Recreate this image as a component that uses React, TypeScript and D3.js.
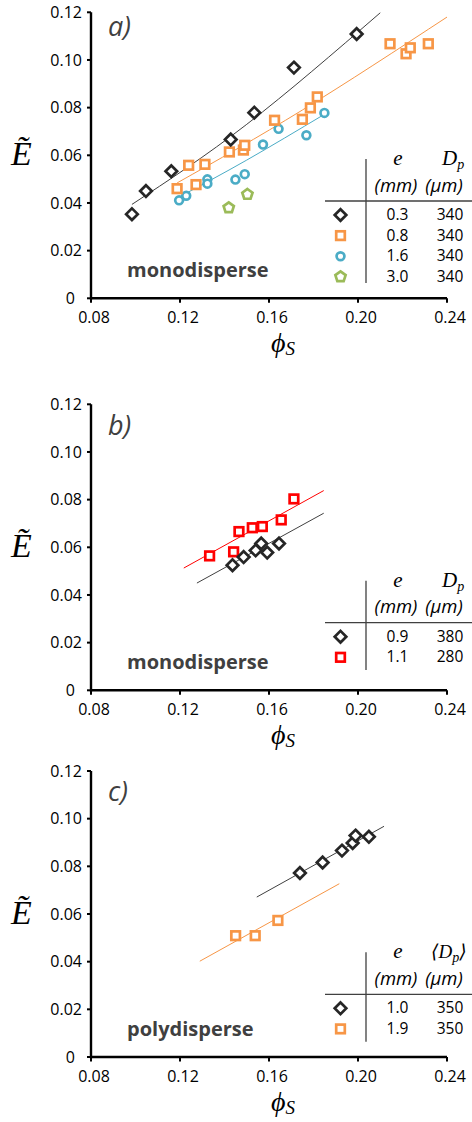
import React from "react";
import * as d3 from "d3";

// axis ticks shared by the three panels
const xTicks = [0.08, 0.12, 0.16, 0.2, 0.24];
const yTicks = [0, 0.02, 0.04, 0.06, 0.08, 0.1, 0.12];

// panel a) monodisperse, Dp = 340 um
const aE03 = [[0.0984, 0.0353], [0.1047, 0.045], [0.1161, 0.0533], [0.1428, 0.0666], [0.1534, 0.0779], [0.1712, 0.0968], [0.1994, 0.1109]];
const aE08 = [[0.1187, 0.046], [0.1239, 0.0558], [0.1272, 0.0477], [0.1312, 0.0562], [0.1422, 0.0614], [0.1485, 0.0622], [0.1491, 0.0642], [0.1625, 0.0747], [0.175, 0.0751], [0.1786, 0.0799], [0.1817, 0.0845], [0.2144, 0.1068], [0.2216, 0.1026], [0.2235, 0.1051], [0.2316, 0.1068]];
const aE16 = [[0.1196, 0.0411], [0.1228, 0.043], [0.1323, 0.0499], [0.1323, 0.0481], [0.1449, 0.0498], [0.1491, 0.0521], [0.1573, 0.0645], [0.1643, 0.0711], [0.1768, 0.0684], [0.1849, 0.0778]];
const aE30 = [[0.1419, 0.038], [0.1503, 0.0436]];
const aFit03 = [[0.0984, 0.0394], [0.15, 0.073], [0.21, 0.1198]];
const aFit08 = [[0.1187, 0.0484], [0.175, 0.079], [0.24, 0.118]];
const aFit16 = [[0.1196, 0.0425], [0.15, 0.058], [0.1849, 0.0772]];

// panel b) monodisperse
const bE09 = [[0.1436, 0.0525], [0.1486, 0.0559], [0.154, 0.0587], [0.1565, 0.0616], [0.1592, 0.0578], [0.1645, 0.0616]];
const bE11 = [[0.1333, 0.0564], [0.1441, 0.0581], [0.1465, 0.0666], [0.1525, 0.0682], [0.157, 0.0687], [0.1655, 0.0715], [0.1712, 0.0803]];
const bFit09 = [[0.1276, 0.045], [0.1846, 0.0743]];
const bFit11 = [[0.1217, 0.0513], [0.1846, 0.0838]];

// panel c) polydisperse
const cE10 = [[0.1739, 0.0772], [0.1841, 0.0816], [0.1928, 0.0866], [0.1976, 0.0898], [0.1989, 0.0929], [0.2049, 0.0924]];
const cE19 = [[0.145, 0.0509], [0.1538, 0.0509], [0.164, 0.0573]];
const cFit10 = [[0.1545, 0.0671], [0.2117, 0.0968]];
const cFit19 = [[0.1289, 0.0402], [0.1916, 0.0727]];

const BLACK = "#262626";
const ORANGE = "#F79646";
const BLUE = "#4BACC6";
const GREEN = "#9BBB59";
const RED = "#FF0000";

const panels = [
  {
    label: "a)", top: 12.3, labelY: 35.5, note: "monodisperse", legendY: 201, legendBottom: 283, dpLabel: "D",
    series: [
      { data: aE03, fit: aFit03, color: BLACK, shape: "diamond", e: "0.3", dp: "340" },
      { data: aE08, fit: aFit08, color: ORANGE, shape: "square", e: "0.8", dp: "340" },
      { data: aE16, fit: aFit16, color: BLUE, shape: "circle", e: "1.6", dp: "340" },
      { data: aE30, fit: null, color: GREEN, shape: "pentagon", e: "3.0", dp: "340" },
    ],
  },
  {
    label: "b)", top: 404.3, labelY: 435, note: "monodisperse", legendY: 622.7, legendBottom: 670, dpLabel: "D",
    series: [
      { data: bE09, fit: bFit09, color: BLACK, shape: "diamond", e: "0.9", dp: "380" },
      { data: bE11, fit: bFit11, color: RED, shape: "square", e: "1.1", dp: "280" },
    ],
  },
  {
    label: "c)", top: 771, labelY: 800.5, note: "polydisperse", legendY: 994.3, legendBottom: 1041.7, dpLabel: "⟨D",
    series: [
      { data: cE10, fit: cFit10, color: BLACK, shape: "diamond", e: "1.0", dp: "350" },
      { data: cE19, fit: cFit19, color: ORANGE, shape: "square", e: "1.9", dp: "350" },
    ],
  },
];

const SANS = "'Open Sans', sans-serif";
const SERIF = "'Liberation Serif', 'DejaVu Serif', serif";
const PLOT_H = 286;

const pentagon = (r: number) => {
  const p = d3.path();
  d3.range(5).forEach((k) => {
    const a = -Math.PI / 2 + (k * 2 * Math.PI) / 5;
    if (k === 0) p.moveTo(r * Math.cos(a), r * Math.sin(a));
    else p.lineTo(r * Math.cos(a), r * Math.sin(a));
  });
  p.closePath();
  return p.toString();
};

const Marker = ({ shape, color, x, y }: any) => {
  const sw = 2.7;
  if (shape === "diamond")
    return <path d="M0,-5.8L5.8,0L0,5.8L-5.8,0Z" transform={`translate(${x},${y})`} fill="#fff" stroke={color} strokeWidth={sw} />;
  if (shape === "square")
    return <rect x={x - 4.3} y={y - 4.3} width={8.6} height={8.6} fill="#fff" stroke={color} strokeWidth={sw} />;
  if (shape === "circle")
    return <circle cx={x} cy={y} r={3.9} fill="#fff" stroke={color} strokeWidth={sw} />;
  return <path d={pentagon(5.4)} transform={`translate(${x},${y})`} fill="#fff" stroke={color} strokeWidth={sw} />;
};

const x = d3.scaleLinear().domain([0.08, 0.24]).range([91, 447]);

const Panel = ({ p }: any) => {
  const y = d3.scaleLinear().domain([0, 0.12]).range([p.top + PLOT_H, p.top]);
  const y0 = y(0);
  const line = d3.line<number[]>().x((d) => x(d[0])).y((d) => y(d[1])).curve(d3.curveNatural);
  const lx = 366;
  const angled = p.dpLabel === "⟨D";
  return (
    <g>
      {/* trend lines */}
      {p.series.filter((s: any) => s.fit).map((s: any, i: number) => (
        <path key={"f" + i} d={line(s.fit) || ""} fill="none" stroke={s.color === BLACK ? "#404040" : s.color} strokeWidth={1} />
      ))}
      {/* markers, last series drawn first */}
      {p.series.slice().reverse().map((s: any, i: number) => (
        <g key={"s" + i}>
          {s.data.map((d: number[], j: number) => (
            <Marker key={j} shape={s.shape} color={s.color} x={x(d[0])} y={y(d[1])} />
          ))}
        </g>
      ))}
      {/* axes */}
      <line x1={x(0.08)} x2={x(0.24)} y1={y0} y2={y0} stroke="#000" strokeWidth={2.4} />
      <line x1={x(0.08)} x2={x(0.08)} y1={y0 + 1.2} y2={y(0.12)} stroke="#000" strokeWidth={2.4} />
      {yTicks.map((t) => (
        <g key={"y" + t}>
          <line x1={x(0.08) - 4} x2={x(0.08)} y1={y(t)} y2={y(t)} stroke="#000" strokeWidth={2} />
          <text x={t === 0 ? 75 : 82} y={y(t)} dy="0.36em" textAnchor="end" fontFamily={SANS} fontSize={16} fill="#000">
            {t === 0 ? "0" : d3.format(".2f")(t)}
          </text>
        </g>
      ))}
      {xTicks.map((t) => (
        <g key={"x" + t}>
          <line x1={x(t)} x2={x(t)} y1={y0} y2={y0 + 4.5} stroke="#000" strokeWidth={2} />
          <text x={x(t) + 3} y={y0 + 24.5} textAnchor="middle" fontFamily={SANS} fontSize={16} fill="#000">
            {d3.format(".2f")(t)}
          </text>
        </g>
      ))}
      {/* axis titles */}
      <text x={21.5} y={y(0.06) + 10} textAnchor="middle" fontFamily={SERIF} fontStyle="italic" fontSize={34} fill="#000">Ẽ</text>
      <text x={271} y={y0 + 54} fontFamily={SERIF} fontStyle="italic" fontSize={28} fill="#000">
        ϕ<tspan fontSize={19} dy={2.5}>S</tspan>
      </text>
      {/* panel label and note */}
      <text x={108} y={p.labelY} fontFamily={SANS} fontStyle="italic" fontSize={27} fill="#404040">{p.label}</text>
      <text x={127} y={y0 - 21} fontFamily={SANS} fontWeight="bold" fontSize={20} fill="#404040">{p.note}</text>
      {/* legend table */}
      <line x1={lx} x2={lx} y1={p.legendY - 42} y2={p.legendBottom} stroke="#404040" strokeWidth={1.3} />
      <line x1={325} x2={472} y1={p.legendY} y2={p.legendY} stroke="#404040" strokeWidth={1.3} />
      <text x={398} y={p.legendY - 36} textAnchor="middle" fontFamily={SERIF} fontStyle="italic" fontSize={21} fill="#000">e</text>
      <text x={angled ? 431 : 442} y={p.legendY - 36} fontFamily={SERIF} fontStyle="italic" fontSize={angled ? 19 : 21} fill="#000">
        {p.dpLabel}<tspan fontSize={14} dy={4}>p</tspan>{angled ? <tspan dy={-4} fontSize={19}>⟩</tspan> : null}
      </text>
      <text x={396} y={p.legendY - 9.3} textAnchor="middle" fontFamily={SANS} fontStyle="italic" fontSize={18.5} fill="#000">(mm)</text>
      <text x={444} y={p.legendY - 9.3} textAnchor="middle" fontFamily={SANS} fontStyle="italic" fontSize={18.5} fill="#000">(μm)</text>
      {p.series.map((s: any, i: number) => {
        const ry = p.legendY + 19 + i * 20.6;
        return (
          <g key={"l" + i}>
            <Marker shape={s.shape} color={s.color} x={340.5} y={ry - 5} />
            <text x={397.5} y={ry} textAnchor="middle" fontFamily={SANS} fontSize={15.5} fill="#000">{s.e}</text>
            <text x={450} y={ry} textAnchor="middle" fontFamily={SANS} fontSize={15.5} fill="#000">{s.dp}</text>
          </g>
        );
      })}
    </g>
  );
};

export default function App() {
  return (
    <svg width={472} height={1122} style={{ position: "absolute", left: 0, top: 0, background: "#fff" }}>
      <rect width={472} height={1122} fill="#fff" />
      {panels.map((p) => (
        <Panel key={p.label} p={p} />
      ))}
    </svg>
  );
}
